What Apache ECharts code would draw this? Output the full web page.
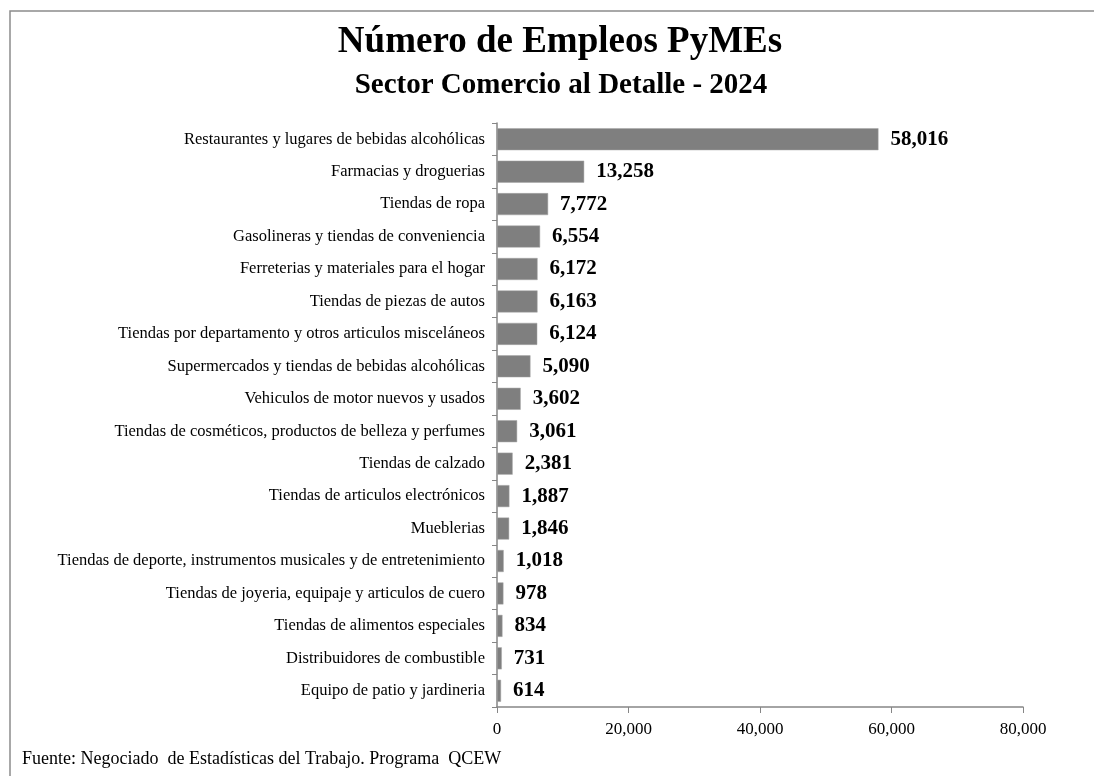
<!DOCTYPE html>
<html>
<head>
<meta charset="utf-8">
<script src="https://cdn.jsdelivr.net/npm/echarts@6/dist/echarts.min.js"></script>
<style>
  html, body { margin: 0; padding: 0; background: #fff; }
  #chart { width: 1094px; height: 776px; }
</style>
</head>
<body>
<div id="chart"></div>
<script>
// sectores, de mayor a menor
var sectores = [
  'Restaurantes y lugares de bebidas alcohólicas',
  'Farmacias y droguerias',
  'Tiendas de ropa',
  'Gasolineras y tiendas de conveniencia',
  'Ferreterias y materiales para el hogar',
  'Tiendas de piezas de autos',
  'Tiendas por departamento y otros articulos misceláneos',
  'Supermercados y tiendas de bebidas alcohólicas',
  'Vehiculos de motor nuevos y usados',
  'Tiendas de cosméticos, productos de belleza y perfumes',
  'Tiendas de calzado',
  'Tiendas de articulos electrónicos',
  'Mueblerias',
  'Tiendas de deporte, instrumentos musicales y de entretenimiento',
  'Tiendas de joyeria, equipaje y articulos de cuero',
  'Tiendas de alimentos especiales',
  'Distribuidores de combustible',
  'Equipo de patio y jardineria'
];
var empleos = [58016, 13258, 7772, 6554, 6172, 6163, 6124, 5090, 3602, 3061,
  2381, 1887, 1846, 1018, 978, 834, 731, 614];
var ejeMin = 0;
var ejeMax = 80000;
var ejeIntervalo = 20000;

var serif = '"Liberation Serif", "DejaVu Serif", serif';
var fmt = function (v) { return Number(v).toLocaleString('en-US'); };

var myChart = echarts.init(document.getElementById('chart'));
var option = {
  backgroundColor: '#ffffff',
  animation: false,
  title: [{
    text: 'Número de Empleos PyMEs',
    left: 555,
    top: 19,
    textAlign: 'center',
    textStyle: { fontFamily: serif, fontWeight: 'bold', fontSize: 37, color: '#000' }
  }, {
    text: 'Sector Comercio al Detalle - 2024',
    left: 556,
    top: 66,
    textAlign: 'center',
    textStyle: { fontFamily: serif, fontWeight: 'bold', fontSize: 29, color: '#000' }
  }, {
    text: 'Fuente: Negociado  de Estadísticas del Trabajo. Programa  QCEW',
    left: 17,
    top: 745,
    textStyle: { fontFamily: serif, fontWeight: 'normal', fontSize: 18, color: '#000' }
  }],
  graphic: [{
    type: 'polyline',
    shape: { points: [[10, 800], [10, 11], [1100, 11]] },
    style: { stroke: '#8c8c8c', lineWidth: 1.5, fill: null }
  }],
  grid: { left: 497, right: 71, top: 123, bottom: 69 },
  xAxis: {
    type: 'value',
    min: ejeMin,
    max: ejeMax,
    interval: ejeIntervalo,
    splitLine: { show: false },
    axisLine: { show: true, lineStyle: { color: '#868686', width: 1.5 } },
    axisTick: { show: true, length: 6, lineStyle: { color: '#868686' } },
    axisLabel: {
      margin: 14,
      fontFamily: serif,
      fontSize: 17,
      color: '#000',
      formatter: fmt
    }
  },
  yAxis: {
    type: 'category',
    inverse: true,
    data: sectores,
    axisLine: { show: true, lineStyle: { color: '#868686', width: 1.5 } },
    axisTick: { show: true, length: 5, lineStyle: { color: '#868686' } },
    axisLabel: {
      margin: 12,
      fontFamily: serif,
      fontSize: 16.5,
      color: '#000'
    }
  },
  series: [{
    type: 'bar',
    data: empleos,
    barWidth: 22,
    itemStyle: { color: '#7f7f7f', borderColor: '#a6a6a6', borderWidth: 0.5 },
    label: {
      show: true,
      position: 'right',
      distance: 12,
      fontFamily: serif,
      fontWeight: 'bold',
      fontSize: 21,
      color: '#000',
      formatter: function (p) { return fmt(p.value); }
    }
  }]
};
myChart.setOption(option);
</script>
</body>
</html>
